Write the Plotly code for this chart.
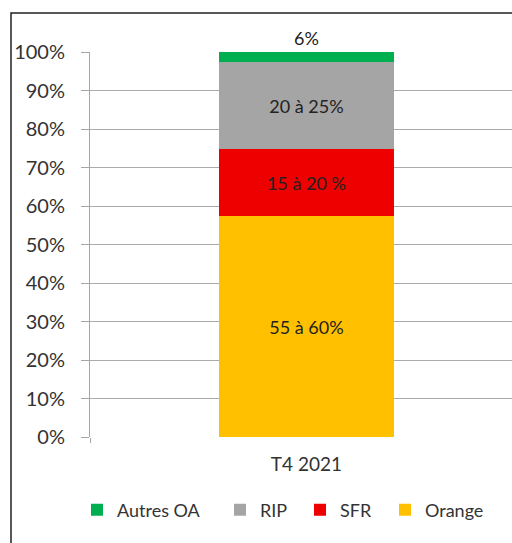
import plotly.graph_objects as go

categories = ["T4 2021"]
series_names = ["Orange", "SFR", "RIP", "Autres OA"]
orange = [0.574]
sfr = [0.173]
rip = [0.227]
autres = [0.026]
labels = {"Orange": ["55 à 60%"], "SFR": ["15 à 20 %"], "RIP": ["20 à 25%"], "Autres OA": ["6%"]}
colors = {"Orange": "#FFC000", "SFR": "#EE0000", "RIP": "#A5A5A5", "Autres OA": "#00B050"}
values = {"Orange": orange, "SFR": sfr, "RIP": rip, "Autres OA": autres}
y_ticks = [i / 10 for i in range(11)]
y_ticktext = [f"{i*10}%" for i in range(11)]

FONT = "Lato"
L, R, T, B = 90, 0, 52, 106
PW, PH = 512 - L - R, 543 - T - B

# legend marker left positions (px) -> one legend per series
legend_px = {"Autres OA": 93, "RIP": 236, "SFR": 316, "Orange": 401}
legend_ids = {"Autres OA": "legend", "RIP": "legend2", "SFR": "legend3", "Orange": "legend4"}

fig = go.Figure()
for name in series_names:
    fig.add_trace(go.Bar(
        x=categories, y=values[name], name=name,
        marker=dict(color=colors[name], line=dict(width=0)),
        width=0.404,
        text=labels[name],
        textposition="outside" if name == "Autres OA" else "inside",
        insidetextanchor="middle",
        textangle=0,
        textfont=dict(family=FONT, size=18, color="#222222"),
        cliponaxis=False,
        hoverinfo="skip",
        legend=legend_ids[name],
    ))

legend_layout = {}
for name, px in legend_px.items():
    legend_layout[legend_ids[name]] = dict(
        x=(px - 16 - L) / PW, xanchor="left", y=-(510 - (T + PH)) / PH, yanchor="middle",
        orientation="h", itemwidth=30, bgcolor="rgba(0,0,0,0)",
        font=dict(family=FONT, size=18, color="#333333"))

fig.update_layout(
    width=512, height=543,
    barmode="stack",
    paper_bgcolor="white", plot_bgcolor="white",
    margin=dict(l=L, r=R, t=T, b=B, autoexpand=False),
    showlegend=True,
    shapes=[dict(type="rect", xref="paper", yref="paper",
                 x0=(11 - L) / PW, x1=1.2, y0=-0.5, y1=1 + (T - 13) / PH,
                 line=dict(color="#222222", width=1.5), fillcolor="rgba(0,0,0,0)", layer="below")],
    **legend_layout,
)
fig.update_xaxes(type="category", range=[-0.5, 0.475], showgrid=False, automargin=False,
                 showline=False, ticks="outside", tickson="boundaries", ticklen=5,
                 tickcolor="#A6A6A6", tickfont=dict(family=FONT, size=19, color="#333333"),
                 ticklabelstandoff=14, zeroline=False)
fig.update_yaxes(range=[0, 1], tickvals=y_ticks, ticktext=y_ticktext, showgrid=True, automargin=False,
                 gridcolor="#ABABAB", gridwidth=1, showline=True, linecolor="#A6A6A6",
                 ticks="outside", ticklen=8, tickcolor="#A6A6A6",
                 tickfont=dict(family=FONT, size=20, color="#333333"),
                 ticklabelstandoff=12, zeroline=False)

fig.write_html("out.html", config={"displayModeBar": False},
               post_script="document.body.style.margin='0';document.body.style.overflow='hidden';")
